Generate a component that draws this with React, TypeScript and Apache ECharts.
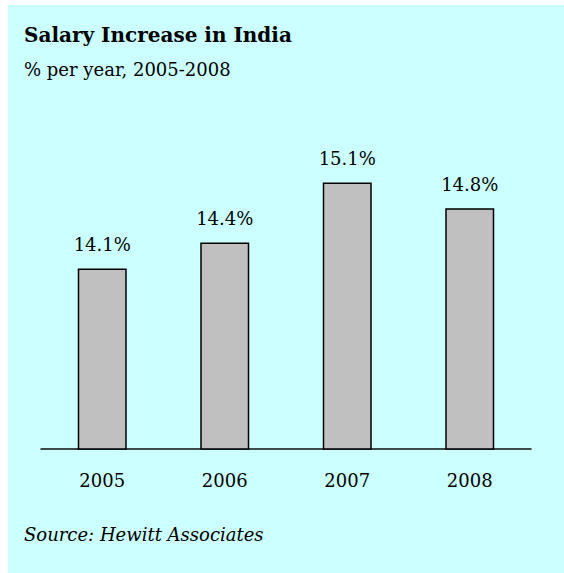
import React, { useEffect, useRef } from "react";
import * as echarts from "echarts";

const categories = ["2005", "2006", "2007", "2008"];
const values = [14.1, 14.4, 15.1, 14.8];
const titleText = "Salary Increase in India";
const subtitleText = "% per year, 2005-2008";
const sourceText = "Source: Hewitt Associates";

const FONT = "'DejaVu Serif', 'Liberation Serif', serif";

export default function App() {
  const ref = useRef<HTMLDivElement>(null);
  useEffect(() => {
    if (!ref.current) return;
    const chart = echarts.init(ref.current, null, { renderer: "svg" });
    chart.setOption({
      animation: false,
      backgroundColor: "#ccffff",
      graphic: [
        {
          type: "text",
          left: 16,
          top: 20,
          style: { text: titleText, font: `bold 20px ${FONT}`, fill: "#000" },
        },
        {
          type: "text",
          left: 16,
          top: 55,
          style: { text: subtitleText, font: `18px ${FONT}`, fill: "#000" },
        },
        {
          type: "text",
          left: 16,
          top: 520,
          style: { text: sourceText, font: `italic 18px ${FONT}`, fill: "#000" },
        },
      ],
      grid: { left: 33, right: 33, top: 100, bottom: 124 },
      xAxis: {
        type: "category",
        data: categories,
        axisLine: { show: true, lineStyle: { color: "#111", width: 1.5 } },
        axisTick: { show: false },
        axisLabel: { color: "#000", fontFamily: FONT, fontSize: 18, margin: 22 },
      },
      yAxis: {
        type: "value",
        min: 12,
        max: 16,
        show: false,
        splitLine: { show: false },
      },
      series: [
        {
          type: "bar",
          data: values,
          barWidth: "40%",
          itemStyle: { color: "#c0c0c0", borderColor: "#000", borderWidth: 1.5 },
          label: {
            show: true,
            position: "top",
            distance: 15,
            formatter: (p: any) => `${p.value}%`,
            color: "#000",
            fontFamily: FONT,
            fontSize: 18,
          },
        },
      ],
    });
    return () => chart.dispose();
  }, []);
  return (
    <div
      ref={ref}
      style={{ position: "absolute", left: 8, top: 5, width: 556, height: 568 }}
    />
  );
}
